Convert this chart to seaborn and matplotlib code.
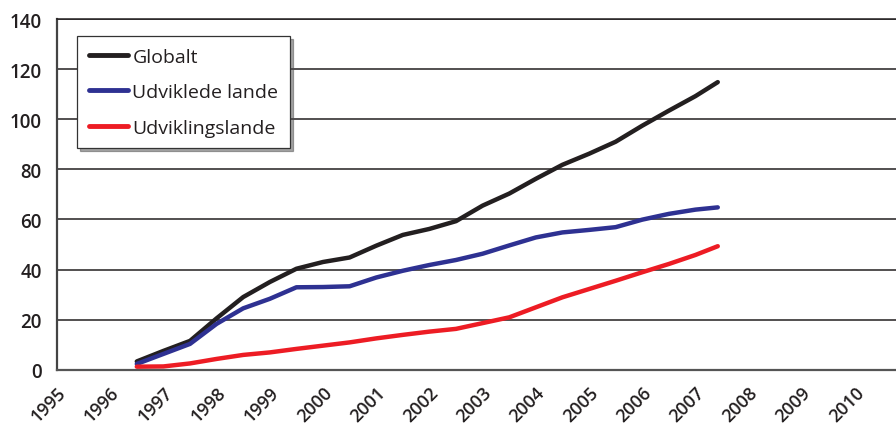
import numpy as np
import pandas as pd
import matplotlib
matplotlib.use("Agg")
import matplotlib.pyplot as plt
import seaborn as sns

# half-year points (last point is mid 2007)
x_years = [1996.5, 1997.0, 1997.5, 1998.0, 1998.5, 1999.0, 1999.5, 2000.0,
           2000.5, 2001.0, 2001.5, 2002.0, 2002.5, 2003.0, 2003.5, 2004.0,
           2004.5, 2005.0, 2005.5, 2006.0, 2006.5, 2007.0, 2007.42]
globalt = [3.3, 7.5, 11.5, 20.5, 29.0, 35.0, 40.3, 43.0, 44.8, 49.5, 53.8,
           56.2, 59.3, 65.5, 70.3, 76.2, 81.8, 86.2, 91.0, 97.4, 103.4, 109.2, 114.8]
udviklede = [2.3, 6.3, 10.3, 18.3, 24.5, 28.3, 32.9, 33.0, 33.3, 36.8, 39.5,
             41.8, 43.8, 46.3, 49.6, 52.8, 54.8, 55.8, 56.9, 59.9, 62.2, 63.9, 64.8]
udviklings = [1.2, 1.3, 2.5, 4.3, 5.9, 6.9, 8.3, 9.6, 10.9, 12.5, 13.9,
              15.2, 16.3, 18.6, 20.9, 24.9, 28.9, 32.2, 35.5, 38.9, 42.2, 45.8, 49.3]

series_names = ['Globalt', 'Udviklede lande', 'Udviklingslande']
series_colors = ['#231f20', '#2e3192', '#ed1c24']
x_ticks = list(range(1995, 2011))
y_ticks = list(range(0, 141, 20))

df = pd.concat([
    pd.DataFrame({'year': x_years, 'value': globalt, 'serie': series_names[0]}),
    pd.DataFrame({'year': x_years, 'value': udviklede, 'serie': series_names[1]}),
    pd.DataFrame({'year': x_years, 'value': udviklings, 'serie': series_names[2]}),
], ignore_index=True)

sns.set_style('white')
plt.rcParams['font.family'] = ['Open Sans', 'DejaVu Sans']

fig = plt.figure(figsize=(8.96, 4.27), dpi=100)
ax = fig.add_axes([57/896, 1-370.7/427, 839/896, 350.7/427])

sns.lineplot(data=df, x='year', y='value', hue='serie', hue_order=series_names,
             palette=series_colors, linewidth=3.2, ax=ax, legend=True)

ax.set_xlim(1995, 2010.77)
ax.set_ylim(0, 140)
ax.set_xticks(x_ticks)
ax.set_yticks(y_ticks)
ax.set_xlabel('')
ax.set_ylabel('')

ax.grid(axis='y', color='#231f20', linewidth=1.1)
ax.grid(axis='x', visible=False)
ax.set_axisbelow(True)

ax.spines['right'].set_visible(False)
ax.spines['top'].set_color('#231f20')
ax.spines['top'].set_linewidth(1.1)
ax.spines['left'].set_color('#444444')
ax.spines['left'].set_linewidth(1.6)
ax.spines['bottom'].set_color('#555555')
ax.spines['bottom'].set_linewidth(1.6)

ax.tick_params(axis='y', length=6, width=1.1, color='#231f20', pad=5,
               labelsize=13.5, labelcolor='#231f20')
ax.tick_params(axis='x', length=4.5, width=1.2, color='#444444', pad=5,
               labelsize=13, labelcolor='#231f20')
for lab in ax.get_yticklabels() + ax.get_xticklabels():
    lab.set_fontweight('semibold')
plt.setp(ax.get_xticklabels(), rotation=45, ha='right', rotation_mode='anchor')

leg = ax.legend(loc='upper left', bbox_to_anchor=(20/839, 1-17/350.7),
                borderaxespad=0, fontsize=14, frameon=True, fancybox=False,
                shadow=True, handlelength=2.0, handletextpad=0.25,
                labelspacing=0.9, borderpad=0.6)
leg.get_frame().set_edgecolor('#333333')
leg.get_frame().set_linewidth(0.9)
for t in leg.get_texts():
    t.set_color('#231f20')
for h in leg.get_lines():
    h.set_linewidth(3.5)

fig.savefig('out.png', dpi=100)
